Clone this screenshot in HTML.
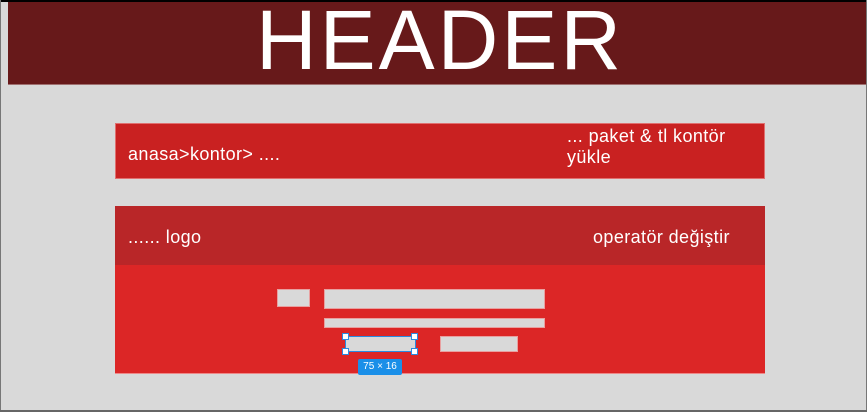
<!DOCTYPE html>
<html><head><style>
body{margin:0;width:867px;height:412px;position:relative;background:#d9d9d9;font-family:"Liberation Sans",sans-serif;overflow:hidden}
div{position:absolute;box-sizing:border-box}
.g{background:#d9d9d9;border:1px solid #e8a0a0}
.t{color:#fff;font-size:18px;line-height:21px;letter-spacing:0.4px}
</style></head><body>
<div style="left:0;top:0;width:867px;height:2px;background:#000"></div>
<div style="left:0;top:0;width:1px;height:412px;background:#777"></div>
<div style="left:866px;top:0;width:1px;height:412px;background:#777"></div>
<div style="left:0;top:410px;width:867px;height:2px;background:#666"></div>
<div style="left:8px;top:2px;width:858px;height:83px;background:#67191a;border-bottom:1px solid #a07070"></div>
<div style="left:8px;top:0;width:858px;height:85px;color:#fff;font-size:84px;line-height:80px;text-align:center;letter-spacing:3px;padding-left:6px">HEADER</div>
<div style="left:115px;top:123px;width:650px;height:56px;background:#c92121;border:1px solid #e07070"></div>
<div class="t" style="left:128px;top:144px">anasa&gt;kontor&gt; ....</div>
<div class="t" style="left:567px;top:126px">... paket &amp; tl kontör<br>yükle</div>
<div style="left:115px;top:206px;width:650px;height:60px;background:#b92628"></div>
<div style="left:115px;top:265px;width:650px;height:109px;background:#dc2626;border-bottom:1px solid #e88"></div>
<div class="t" style="left:128px;top:227px">...... logo</div>
<div class="t" style="left:593px;top:227px">operatör değiştir</div>
<div class="g" style="left:277px;top:289px;width:33px;height:18px"></div>
<div class="g" style="left:324px;top:289px;width:221px;height:20px"></div>
<div class="g" style="left:324px;top:318px;width:221px;height:10px"></div>
<div class="g" style="left:440px;top:336px;width:78px;height:16px"></div>
<div style="left:345px;top:336px;width:71px;height:16px;background:#d9d9d9;border:1px solid #2b8ae0"></div>
<div style="left:342px;top:333px;width:7px;height:7px;background:#fff;border:1px solid #2b8ae0"></div>
<div style="left:411px;top:333px;width:7px;height:7px;background:#fff;border:1px solid #2b8ae0"></div>
<div style="left:342px;top:348px;width:7px;height:7px;background:#fff;border:1px solid #2b8ae0"></div>
<div style="left:411px;top:348px;width:7px;height:7px;background:#fff;border:1px solid #2b8ae0"></div>
<div style="left:358px;top:359px;width:44px;height:16px;background:#1a8fe8;border-radius:2px;color:#fff;font-size:10px;line-height:16px;text-align:center">75 × 16</div>
</body></html>
